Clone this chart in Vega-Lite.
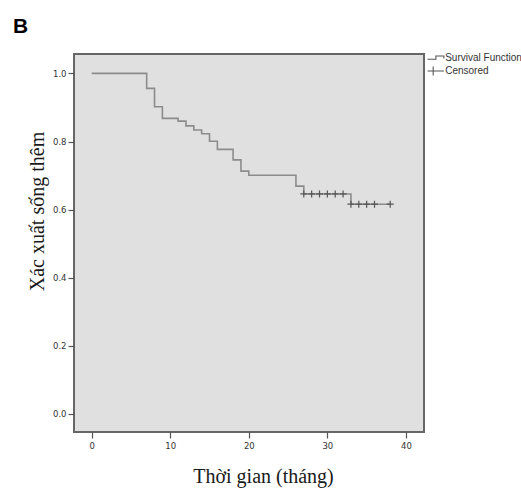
{
  "$schema": "https://vega.github.io/schema/vega-lite/v6.json",
  "width": 350,
  "height": 378,
  "autosize": "none",
  "padding": {"left": 74, "top": 54, "right": 97, "bottom": 56},
  "background": "white",
  "title": {"text": "B", "anchor": "start", "frame": "group", "dx": -61, "offset": -2, "baseline": "alphabetic", "font": "Liberation Sans", "fontSize": 21, "fontWeight": "bold", "color": "#000000"},
  "config": {"view": {"fill": "#e0e0e0", "stroke": "#666666", "strokeWidth": 2}},
  "datasets": {
    "surv": [
      {"time": 0, "survival": 1.0},
      {"time": 7, "survival": 0.956},
      {"time": 8, "survival": 0.902},
      {"time": 9, "survival": 0.868},
      {"time": 11, "survival": 0.86},
      {"time": 12, "survival": 0.846},
      {"time": 13, "survival": 0.834},
      {"time": 14, "survival": 0.823},
      {"time": 15, "survival": 0.801},
      {"time": 16, "survival": 0.777},
      {"time": 18, "survival": 0.746},
      {"time": 19, "survival": 0.713},
      {"time": 20, "survival": 0.701},
      {"time": 26, "survival": 0.669},
      {"time": 27, "survival": 0.646},
      {"time": 33, "survival": 0.616},
      {"time": 38, "survival": 0.616}
    ],
    "cens": [
      {"time": 27, "survival": 0.646, "kind": "Censored"},
      {"time": 28, "survival": 0.646, "kind": "Censored"},
      {"time": 29, "survival": 0.646, "kind": "Censored"},
      {"time": 30, "survival": 0.646, "kind": "Censored"},
      {"time": 31, "survival": 0.646, "kind": "Censored"},
      {"time": 32, "survival": 0.646, "kind": "Censored"},
      {"time": 33, "survival": 0.616, "kind": "Censored"},
      {"time": 34, "survival": 0.616, "kind": "Censored"},
      {"time": 35, "survival": 0.616, "kind": "Censored"},
      {"time": 36, "survival": 0.616, "kind": "Censored"},
      {"time": 38, "survival": 0.616, "kind": "Censored"}
    ]
  },
  "layer": [
    {
      "data": {"name": "surv"},
      "mark": {"type": "line", "interpolate": "step-after", "color": "#8c8c8c", "strokeWidth": 1.6},
      "encoding": {
        "x": {"field": "time", "type": "quantitative",
          "scale": {"domain": [-2.25, 42.3], "nice": false, "zero": false},
          "axis": {"values": [0, 10, 20, 30, 40], "format": "d", "domain": false, "grid": false,
            "tickSize": 6, "tickColor": "#555555", "tickWidth": 1.2,
            "labelFont": "DejaVu Sans", "labelFontSize": 8.5, "labelColor": "#333333", "labelPadding": 3,
            "title": "Thời gian (tháng)", "titleFont": "Liberation Serif", "titleFontSize": 20, "titleFontWeight": "normal",
            "titleColor": "#1a1a1a", "titleX": 189, "titleY": 50, "titleBaseline": "alphabetic", "titleAlign": "center"}},
        "y": {"field": "survival", "type": "quantitative",
          "scale": {"domain": [-0.053, 1.057], "nice": false, "zero": false},
          "axis": {"values": [0, 0.2, 0.4, 0.6, 0.8, 1.0], "format": ".1f", "domain": false, "grid": false,
            "tickSize": 6, "tickColor": "#555555", "tickWidth": 1.2,
            "labelFont": "DejaVu Sans", "labelFontSize": 8.5, "labelColor": "#333333", "labelPadding": 2,
            "title": "Xác xuất sống thêm", "titleFont": "Liberation Serif", "titleFontSize": 20, "titleFontWeight": "normal",
            "titleColor": "#1a1a1a", "titleAngle": 270, "titleX": -31, "titleY": 157, "titleBaseline": "alphabetic", "titleAlign": "center"}}
      }
    },
    {
      "data": {"name": "cens"},
      "mark": {"type": "point", "filled": false, "color": "#555555", "strokeWidth": 1.2, "size": 49, "opacity": 1, "shape": "M-1,0H1M0,-1V1"},
      "encoding": {
        "x": {"field": "time", "type": "quantitative"},
        "y": {"field": "survival", "type": "quantitative"}
      }
    },
    {
      "data": {"name": "cens"},
      "mark": {"type": "point", "filled": false, "color": "#555555", "strokeWidth": 1.1, "size": 100, "opacity": 0},
      "encoding": {
        "x": {"field": "time", "type": "quantitative"},
        "y": {"field": "survival", "type": "quantitative"},
        "shape": {"field": "kind", "type": "nominal",
          "scale": {"domain": ["Survival Function", "Censored"], "range": ["M-1.63,0.26H0.04V-0.4H1.64V0.1", "M-1.63,0H1.64M-0.5,-0.9V0.9"]},
          "legend": {"title": null, "orient": "none", "legendX": 355.7, "legendY": -2, "padding": 0,
            "symbolSize": 100, "symbolOpacity": 1, "symbolStrokeColor": "#555555", "symbolStrokeWidth": 1.1, "symbolFillColor": "transparent",
            "labelFont": "Liberation Sans", "labelFontSize": 10, "labelColor": "#333333",
            "labelOffset": 3.5, "rowPadding": 1}}
      }
    }
  ]
}
